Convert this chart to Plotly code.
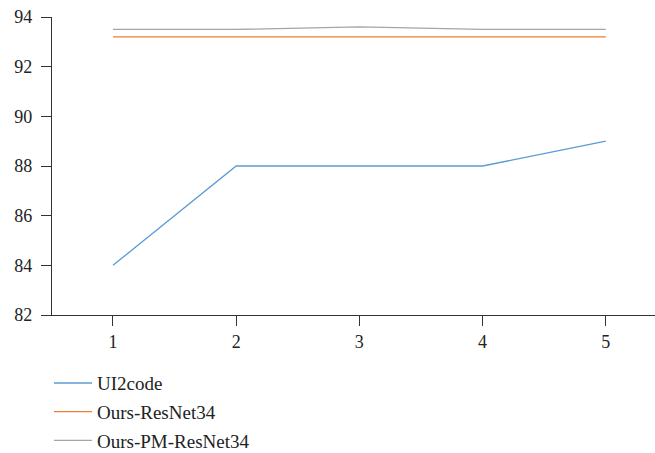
import plotly.graph_objects as go

epochs = [1, 2, 3, 4, 5]
ui2code = [84, 88, 88, 88, 89]
ours_resnet34 = [93.2, 93.2, 93.2, 93.2, 93.2]
ours_pm_resnet34 = [93.5, 93.5, 93.6, 93.5, 93.5]

series = [
    ("UI2code", ui2code, "#5B9BD5"),
    ("Ours-ResNet34", ours_resnet34, "#ED7D31"),
    ("Ours-PM-ResNet34", ours_pm_resnet34, "#A5A5A5"),
]

fig = go.Figure()
for name, vals, color in series:
    fig.add_trace(go.Scatter(x=epochs, y=vals, mode="lines", name=name,
                             legendgroup=name,
                             line=dict(color=color, width=1.3)))

font_family = "Liberation Serif, DejaVu Serif, serif"
fig.update_layout(
    width=655, height=453,
    margin=dict(l=52, r=0, t=17, b=138, autoexpand=False),
    paper_bgcolor="white", plot_bgcolor="white",
    font=dict(family=font_family, size=18, color="#222"),
    showlegend=True,
    legend=dict(x=-0.005, y=-0.165, xanchor="left", yanchor="top",
                orientation="v", font=dict(size=19, family=font_family),
                tracegroupgap=1, itemwidth=38),
    xaxis=dict(range=[0.505, 5.4], tickvals=epochs, showgrid=False,
               showline=True, linecolor="#333", linewidth=1.3,
               ticks="outside", ticklen=10, tickcolor="#333", tickwidth=1.3,
               zeroline=False),
    yaxis=dict(range=[82, 94], dtick=2, showgrid=False,
               showline=True, linecolor="#333", linewidth=1.3,
               ticks="outside", ticklen=10, tickcolor="#333", tickwidth=1.3,
               ticklabelstandoff=5, zeroline=False),
)

fig.write_html("out.html")
